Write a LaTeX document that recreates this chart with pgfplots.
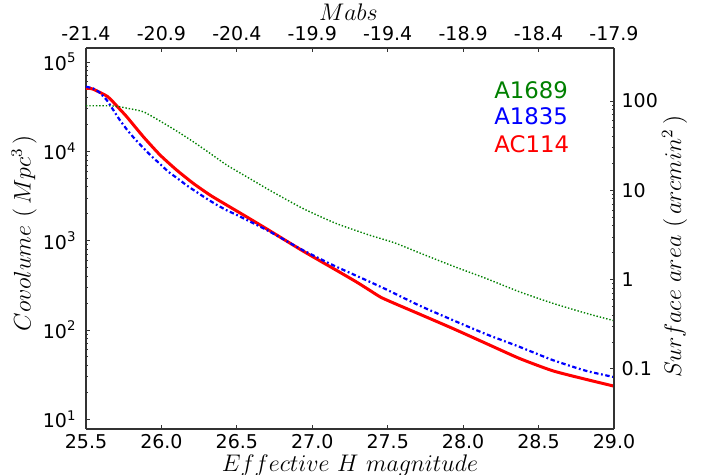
\documentclass[border=0pt]{standalone}
\usepackage[no-math]{fontspec}
\setmainfont{DejaVu Sans}
\usepackage{pgfplots}
\pgfplotsset{compat=1.18}
\definecolor{mgreen}{RGB}{0,128,0}
\pgfplotsset{
    scale only axis, width=264pt, height=190.5pt,
    tick align=inside, major tick length=2.2pt, minor tick length=1.1pt,
    axis line style={black!80, line width=0.55pt},
    every tick/.style={black!80, line width=0.45pt},
    tick label style={font=\fontsize{9.5}{11}\selectfont},
    label style={font=\fontsize{12}{14}\selectfont, inner sep=0pt},
    x tick label style={/pgf/number format/fixed, /pgf/number format/fixed zerofill, /pgf/number format/precision=1, /pgf/number format/assume math mode=true},
}
\begin{document}
\begin{tikzpicture}
\begin{axis}[
  at={(0pt,0pt)}, anchor=south west,
  ymode=log,
  xmin=25.5, xmax=29.0, ymin=7.786, ymax=143500,
  axis x line*=bottom, axis y line*=left,
  xtick={25.5,26.0,26.5,27.0,27.5,28.0,28.5,29.0},
  ytick={10,100,1000,10000,100000},
  yticklabels={10\textsuperscript{1},10\textsuperscript{2},10\textsuperscript{3},10\textsuperscript{4},10\textsuperscript{5}},
  xticklabel style={inner sep=0pt, yshift=-2.4pt},
  yticklabel style={xshift=-1.2pt},
  xlabel={$Effective\ H\ magnitude$},
  ylabel={$Covolume\ (\,Mpc^{3}\,)$},
  xlabel style={at={(axis description cs:0.5,0)}, anchor=base, yshift=-21.4pt},
  ylabel style={at={(axis description cs:-0.0928,0.514)}, anchor=south},
]
\addplot[red, line width=1.5pt, line join=round, smooth, tension=0.35] coordinates {
(25.500,50800) (25.544,49900) (25.644,40900) (25.721,30000) (25.770,24400)
(25.880,14570) (25.991,9090) (26.101,6170) (26.211,4380) (26.322,3240)
(26.433,2500) (26.576,1800) (26.715,1300) (26.936,770) (27.157,469)
(27.290,347) (27.378,280) (27.455,232) (27.555,195) (27.709,151)
(27.931,104) (28.151,70.8) (28.372,48.1) (28.594,34.9) (28.814,28.0)
(29.000,23.5)
};
\addplot[mgreen, line width=0.7pt, dash pattern=on 0.7pt off 0.95pt, smooth, tension=0.35] coordinates {
(25.500,32400) (25.600,32400) (25.666,32300) (25.721,31600) (25.780,30200)
(25.880,27760) (25.991,21840) (26.101,16880) (26.211,12810) (26.322,9500)
(26.433,7020) (26.565,5190) (26.715,3690) (26.936,2300) (27.157,1560)
(27.378,1155) (27.544,947) (27.709,732) (27.931,520) (28.151,378)
(28.372,268) (28.594,199) (28.814,154) (29.000,127)
};
\addplot[blue, line width=1.1pt, dash pattern=on 2.2pt off 1.3pt on 0.9pt off 1.3pt, smooth, tension=0.35] coordinates {
(25.500,52900) (25.544,50800) (25.588,45800) (25.637,37500) (25.681,29000)
(25.721,22800) (25.770,17640) (25.820,13990) (25.876,11090) (25.931,8930)
(25.986,7340) (26.046,5910) (26.112,4900) (26.171,4120) (26.240,3440)
(26.304,2920) (26.370,2500) (26.437,2170) (26.510,1900) (26.715,1270)
(26.936,785) (27.146,523) (27.356,362) (27.489,285) (27.709,188)
(27.931,129) (28.151,89.9) (28.372,64.9) (28.594,46.0) (28.814,34.9)
(29.000,29.7)
};
\node[anchor=base west, inner sep=0pt, text=mgreen, font=\fontsize{11.4}{13}\selectfont] at (rel axis cs:0.7727,0.868) {A1689};
\node[anchor=base west, inner sep=0pt, text=blue, font=\fontsize{11.4}{13}\selectfont] at (rel axis cs:0.7727,0.798) {A1835};
\node[anchor=base west, inner sep=0pt, text=red, font=\fontsize{11.4}{13}\selectfont] at (rel axis cs:0.7727,0.7252) {AC114};
\end{axis}
\begin{axis}[
  at={(0pt,0pt)}, anchor=south west,
  ymode=log,
  xmin=-21.4, xmax=-17.9, ymin=0.02123, ymax=392,
  axis x line*=top, axis y line*=right,
  xtick={-21.4,-20.9,-20.4,-19.9,-19.4,-18.9,-18.4,-17.9},
  ytick={0.1,1,10,100},
  yticklabels={0.1,1,10,100},
  yticklabel style={xshift=0.3pt},
  xlabel={$Mabs$},
  ylabel={$Surface\ area\ (\,arcmin^{2}\,)$},
  xlabel style={at={(axis description cs:0.497,1)}, anchor=base, yshift=13.65pt},
  ylabel style={at={(axis description cs:1.0903,0.478)}, anchor=north},
]
\addplot[draw=none] coordinates {(-21.0,1)};
\end{axis}
\pgfresetboundingbox
\path[use as bounding box] (-43pt,-23pt) rectangle (310pt,214.5pt);
\end{tikzpicture}
\end{document}
